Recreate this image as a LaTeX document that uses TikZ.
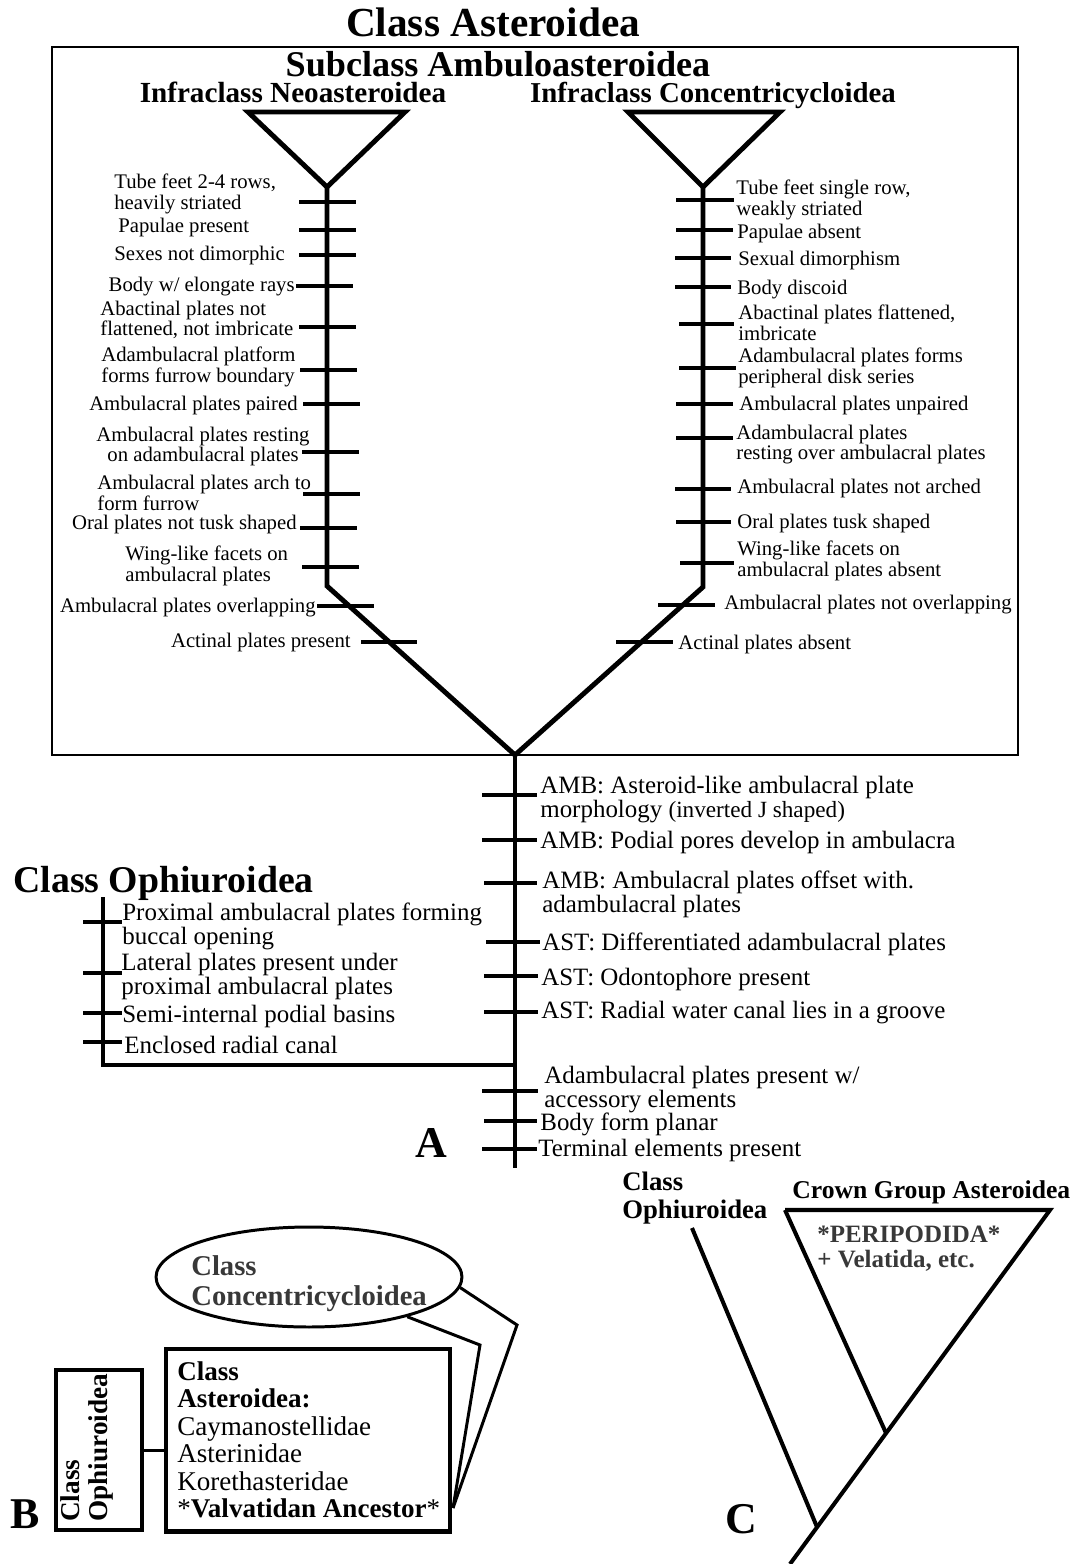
\documentclass[tikz,border=0pt]{standalone}
\usepackage{fontspec}
\setmainfont{Liberation Serif}
\usetikzlibrary{shapes.geometric}
\definecolor{fadetext}{gray}{0.22}

\begin{document}
\begin{tikzpicture}[x=0.02cm,y=-0.02cm,
    branch/.style={line width=2.8pt},
    charbar/.style={line width=2.8pt},
    thinline/.style={line width=1.7pt},
    sm/.style={font=\fontsize{11.8}{11.6}\selectfont,inner sep=0pt,align=left,yshift=-1.6pt},
    md/.style={font=\fontsize{14.2}{13.6}\selectfont,inner sep=0pt,align=left,yshift=-1.4pt},
    panel/.style={font=\fontsize{25}{25}\selectfont\bfseries,inner sep=0pt,anchor=base west}]
\useasboundingbox (0,0) rectangle (1078,1564);

% ---------- A ----------
\node[font=\fontsize{23.5}{24}\selectfont\bfseries,inner sep=0pt,anchor=base] (clast) at (493,37) {Class Asteroidea};
\draw[line width=1.2pt] (52,47) rectangle (1018,755);
\node[font=\fontsize{20.6}{21}\selectfont\bfseries,inner sep=0pt,anchor=base] (subcl) at (498,77) {Subclass Ambuloasteroidea};
\node[font=\fontsize{16.6}{17}\selectfont\bfseries,inner sep=0pt,anchor=base] (neo) at (293,103) {Infraclass Neoasteroidea};
\node[font=\fontsize{16.4}{17}\selectfont\bfseries,inner sep=0pt,anchor=base] (conc) at (713,103) {Infraclass Concentricycloidea};

\coordinate (nla) at (327,187);
\coordinate (nlb) at (327,586);
\coordinate (nra) at (703,187);
\coordinate (nrb) at (703,587);
\coordinate (root) at (515,755);
\coordinate (stemend) at (515,1168);
\coordinate (ophtop) at (103,897);
\coordinate (ophcorner) at (103,1065);
\coordinate (ophjoin) at (515,1065);

\draw[branch] (248,112) -- (405,112) -- (nla) -- cycle;
\draw[branch] (628,112) -- (780,112) -- (nra) -- cycle;
\draw[branch] (nla) -- (nlb) -- (root) -- (nrb) -- (nra);
\draw[branch] (root) -- (stemend);
\draw[branch] (ophtop) -- (ophcorner) -- (ophjoin);

% left ticks
\draw[charbar] (299,202)--(356,202);
\draw[charbar] (299,230)--(356,230);
\draw[charbar] (299,255)--(356,255);
\draw[charbar] (296,286)--(353,286);
\draw[charbar] (299,327)--(356,327);
\draw[charbar] (300,370)--(357,370);
\draw[charbar] (303,404)--(360,404);
\draw[charbar] (302,452)--(359,452);
\draw[charbar] (303,494)--(360,494);
\draw[charbar] (300,528)--(357,528);
\draw[charbar] (302,567)--(359,567);
\draw[charbar] (317,606)--(374,606);
\draw[charbar] (361,642)--(417,642);
% right ticks
\draw[charbar] (676,200)--(734,200);
\draw[charbar] (676,230)--(733,230);
\draw[charbar] (675,258)--(731,258);
\draw[charbar] (675,287)--(731,287);
\draw[charbar] (679,324)--(734,324);
\draw[charbar] (679,368)--(736,368);
\draw[charbar] (676,404)--(733,404);
\draw[charbar] (676,438)--(733,438);
\draw[charbar] (675,489)--(731,489);
\draw[charbar] (676,522)--(731,522);
\draw[charbar] (680,563)--(734,563);
\draw[charbar] (658,605)--(715,605);
\draw[charbar] (616,642)--(673,642);
% stem ticks
\draw[charbar] (482,795)--(537,795);
\draw[charbar] (482,840)--(537,840);
\draw[charbar] (484,883)--(537,883);
\draw[charbar] (486,942)--(540,942);
\draw[charbar] (484,976)--(538,976);
\draw[charbar] (484,1012)--(538,1012);
\draw[charbar] (482,1091)--(538,1091);
\draw[charbar] (484,1121)--(537,1121);
\draw[charbar] (482,1149)--(537,1149);
% ophiuroid ticks
\draw[charbar] (83,922)--(122,922);
\draw[charbar] (83,973)--(122,973);
\draw[charbar] (83,1013)--(122,1013);
\draw[charbar] (83,1042)--(122,1042);

% left characters
\node[sm,anchor=west] (l1) at (114,191) {Tube feet 2-4 rows,\\heavily striated};
\node[sm,anchor=west] (l2) at (118,225) {Papulae present};
\node[sm,anchor=west] (l3) at (114,253) {Sexes not dimorphic};
\node[sm,anchor=east] (l4) at (295,284) {Body w/ elongate rays};
\node[sm,anchor=west] (l5) at (100,317) {Abactinal plates not\\flattened, not imbricate};
\node[sm,anchor=west] (l6) at (101,364) {Adambulacral platform\\forms furrow boundary};
\node[sm,anchor=east] (l7) at (298,403) {Ambulacral plates paired};
\node[sm,align=center] (l8) at (203,444) {Ambulacral plates resting\\on adambulacral plates};
\node[sm,anchor=west] (l9) at (97,490) {Ambulacral plates arch to\\form furrow};
\node[sm,anchor=east] (l10) at (297,522) {Oral plates not tusk shaped};
\node[sm,anchor=west] (l11) at (125,563) {Wing-like facets on\\ambulacral plates};
\node[sm,anchor=east] (l12) at (316,605) {Ambulacral plates overlapping};
\node[sm,anchor=east] (l13) at (351,640) {Actinal plates present};

% right characters
\node[sm,anchor=west] (r1) at (736,197) {Tube feet single row,\\weakly striated};
\node[sm,anchor=west] (r2) at (737,231) {Papulae absent};
\node[sm,anchor=west] (r3) at (738,258) {Sexual dimorphism};
\node[sm,anchor=west] (r4) at (737,287) {Body discoid};
\node[sm,anchor=west] (r5) at (738,320) {Abactinal plates flattened,\\imbricate};
\node[sm,anchor=west] (r6) at (738,365) {Adambulacral plates forms\\peripheral disk series};
\node[sm,anchor=west] (r7) at (739,403) {Ambulacral plates unpaired};
\node[sm,anchor=west] (r8) at (736,442) {Adambulacral plates\\resting over ambulacral plates};
\node[sm,anchor=west] (r9) at (737,486) {Ambulacral plates not arched};
\node[sm,anchor=west] (r10) at (737,521) {Oral plates tusk shaped};
\node[sm,anchor=west] (r11) at (737,558) {Wing-like facets on\\ambulacral plates absent};
\node[sm,anchor=west] (r12) at (724,602) {Ambulacral plates not overlapping};
\node[sm,anchor=west] (r13) at (678,642) {Actinal plates absent};

% stem characters
\node[md,anchor=west] (m1) at (540,797) {AMB: Asteroid-like ambulacral plate\\morphology {\fontsize{13.2}{13.6}\selectfont(inverted J shaped)}};
\node[md,anchor=west] (m2) at (540,840) {AMB: Podial pores develop in ambulacra};
\node[md,anchor=west] (m3) at (542,892) {AMB: Ambulacral plates offset with.\\adambulacral plates};
\node[md,anchor=west] (m4) at (542,942) {AST: Differentiated adambulacral plates};
\node[md,anchor=west] (m5) at (541,977) {AST: Odontophore present};
\node[md,anchor=west] (m6) at (541,1010) {AST: Radial water canal lies in a groove};
\node[md,anchor=west] (m7) at (544,1087) {Adambulacral plates present w/\\accessory elements};
\node[md,anchor=west] (m8) at (540,1122) {Body form planar};
\node[md,anchor=west] (m9) at (538,1148) {Terminal elements present};

% ophiuroids
\node[font=\fontsize{21.5}{22}\selectfont\bfseries,inner sep=0pt,anchor=base west] (cloph) at (13,892) {Class Ophiuroidea};
\node[md,anchor=west] (o1) at (122,924) {Proximal ambulacral plates forming\\buccal opening};
\node[md,anchor=west] (o2) at (121,974) {Lateral plates present under\\proximal ambulacral plates};
\node[md,anchor=west] (o3) at (122,1014) {Semi-internal podial basins};
\node[md,anchor=west] (o4) at (124,1042) {Enclosed radial canal};
\node[panel] (pa) at (415,1157) {A};

% ---------- B ----------
\node[draw,ellipse,line width=1.7pt,minimum width=6.12cm,minimum height=2.0cm,inner sep=0pt] (concell) at (309,1277) {};
\node[font=\fontsize{16.3}{17}\selectfont\bfseries,text=fadetext,inner sep=0pt,align=left,anchor=west] (concB) at (191,1284) {Class\\Concentricycloidea};
\node[draw,line width=2.3pt,minimum width=5.68cm,minimum height=3.66cm,inner sep=0pt] (abox) at (308,1440) {};
\node[font=\fontsize{15.4}{15.65}\selectfont,inner sep=0pt,align=left,anchor=west] (atext) at (177,1440)
  {\textbf{Class}\\\textbf{Asteroidea:}\\Caymanostellidae\\Asterinidae\\Korethasteridae\\*\textbf{Valvatidan Ancestor}*};
\node[draw,line width=2.3pt,minimum width=1.72cm,minimum height=3.2cm,inner sep=0pt] (obox) at (99,1450) {};
\node[font=\fontsize{15.5}{16.4}\selectfont\bfseries,inner sep=0pt,align=left,rotate=90,anchor=west] (otext) at (87,1522) {Class\\Ophiuroidea};
\coordinate (bj) at (453,1508);
\draw[line width=1.7pt] (obox.east) -- (obox.east -| abox.west);
\draw[thinline] (concell.-4) -- (517,1325) -- (bj);
\draw[thinline] (concell.-22) -- (480,1345) -- (bj);
\node[panel] (pb) at (10,1528) {B};

% ---------- C ----------
\coordinate (ctl) at (785,1210);
\coordinate (ctr) at (1050,1210);
\coordinate (cin) at (886,1433);
\coordinate (cbase) at (790,1564);
\coordinate (cjoin) at (817,1527);
\coordinate (cop) at (692,1228);
\draw[line width=2.3pt] (ctl) -- (ctr) -- (cbase);
\draw[line width=2.3pt] (ctl) -- (cin);
\draw[line width=2.3pt] (cop) -- (cjoin);
\node[font=\fontsize{15.2}{15.9}\selectfont\bfseries,inner sep=0pt,align=left,anchor=west] (ophC) at (622,1198) {Class\\Ophiuroidea};
\node[font=\fontsize{14.6}{15}\selectfont\bfseries,inner sep=0pt,anchor=base west] (crown) at (792,1198) {Crown Group Asteroidea};
\node[font=\fontsize{14.2}{14.2}\selectfont\bfseries,text=fadetext,inner sep=0pt,align=left,anchor=west] (peri) at (817,1249) {*PERIPODIDA*\\+ Velatida, etc.};
\node[panel] (pc) at (725,1533) {C};
\end{tikzpicture}
\end{document}
